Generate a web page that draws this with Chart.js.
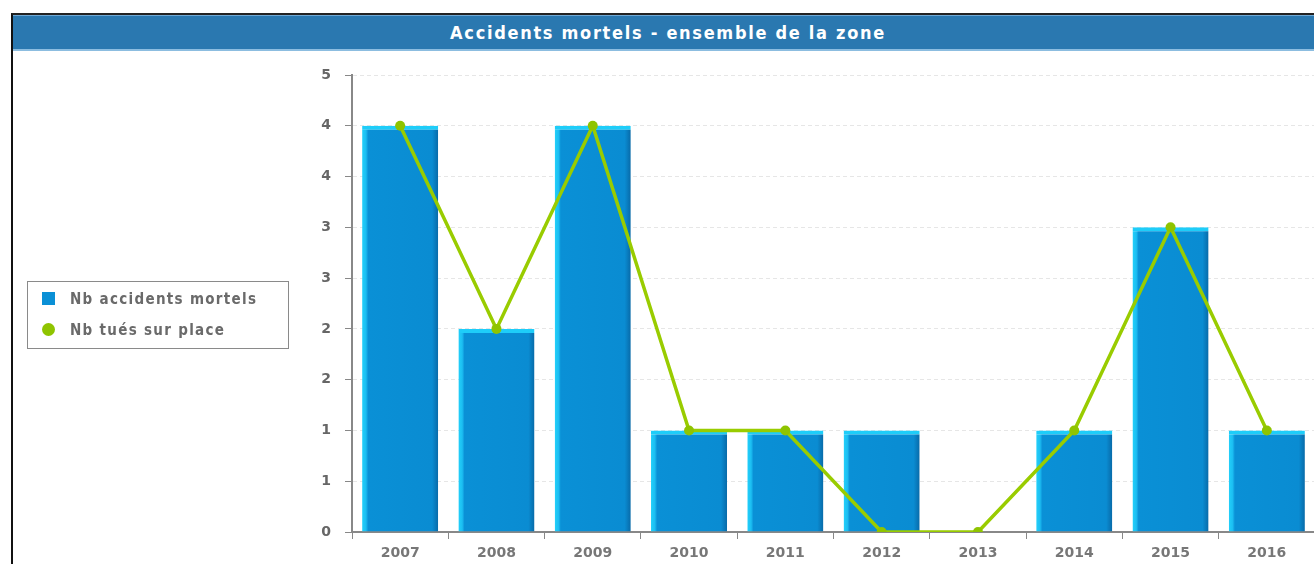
<!DOCTYPE html>
<html>
<head>
<meta charset="utf-8">
<script src="https://cdn.jsdelivr.net/npm/chart.js@4/dist/chart.umd.min.js"></script>
<style>
  html, body { margin:0; padding:0; background:#fff; width:1314px; height:564px; overflow:hidden; }
  #frame { position:absolute; left:11px; top:13px; width:1320px; height:560px; border-left:2px solid #111; border-top:2px solid #222; }
  #titlebar { position:absolute; left:0; top:0; width:100%; height:36px; background:#2a78b0;
    border-top:1px solid #6fa8d4; border-bottom:2px solid #8cbde0;
    color:#fff; font:bold 18px "DejaVu Sans Condensed"; letter-spacing:1.7px; line-height:34px; box-sizing:border-box; }
  #titlebar span { position:absolute; left:0; width:1310px; text-align:center; }
  #wrap { position:absolute; left:0; top:0; width:1314px; height:564px; overflow:hidden; }
  #legend { position:absolute; left:27px; top:281px; width:262px; height:68px; border:1px solid #8a8a8a; box-sizing:border-box;
    font:bold 15px "DejaVu Sans Condensed"; letter-spacing:1.3px; color:#6a6a6a; }
  .item { position:absolute; left:14px; height:20px; line-height:20px; }
  .item i { display:inline-block; width:13px; height:13px; margin-right:15px; vertical-align:-1px; }
</style>
</head>
<body>
<div id="frame"><div id="titlebar"><span>Accidents mortels - ensemble de la zone</span></div></div>
<div id="wrap"><canvas id="chart" width="1320" height="564"></canvas></div>
<div id="legend"></div>
<script>
const years = ['2007','2008','2009','2010','2011','2012','2013','2014','2015','2016'];
const accidents = [4, 2, 4, 1, 1, 1, 0, 1, 3, 1];
const tues = [4, 2, 4, 1, 1, 0, 0, 1, 3, 1];
const yMax = 4.5;
const yStep = 0.5;

const barColor = '#0a90d6';
const lineColor = '#99cc00';

// horizontal gradient for each bar: cyan left edge, darker right edge
function barFill(ctx){
  const chart = ctx.chart;
  const xs = chart.scales.x;
  if(!xs || ctx.dataIndex === undefined) return barColor;
  const cx = xs.getPixelForValue(ctx.dataIndex);
  const w = (xs.width / years.length) * 0.79;
  if(!isFinite(cx) || !isFinite(w) || w <= 0) return barColor;
  const g = chart.ctx.createLinearGradient(cx - w/2, 0, cx + w/2, 0);
  g.addColorStop(0, '#22d0fa');
  g.addColorStop(0.05, '#1cbef2');
  g.addColorStop(0.08, barColor);
  g.addColorStop(0.92, '#0a8cd2');
  g.addColorStop(1, '#086aa8');
  return g;
}

const ctx = document.getElementById('chart').getContext('2d');
const chart = new Chart(ctx, {
  data: {
    labels: years,
    datasets: [
      {
        type:'line', label:'Nb tués sur place', data: tues, order:0,
        borderColor: lineColor, backgroundColor: '#8fc400', borderWidth:3.5,
        pointRadius:5, pointHoverRadius:5, pointBackgroundColor:'#8fc400', pointBorderWidth:0,
        tension:0
      },
      {
        type:'bar', label:'Nb accidents mortels', data: accidents, order:1,
        backgroundColor: barFill, borderColor:'#1ecdf9',
        borderWidth:{ top:4, left:0, right:0, bottom:0 }, borderSkipped:'bottom',
        barPercentage:1, categoryPercentage:0.79
      }
    ]
  },
  options: {
    responsive:false, animation:false,
    layout:{ padding:{ left:312, top:75, right:0, bottom:0 } },
    plugins:{ legend:{ display:false }, tooltip:{ enabled:false } },
    scales:{
      x:{
        offset:true,
        grid:{ offset:true, drawOnChartArea:false, color:'#888', tickLength:7 },
        border:{ color:'#888', width:2 },
        ticks:{ color:'#777', font:{ family:'DejaVu Sans', weight:'bold', size:14 }, padding:6 },
        afterFit:(s)=>{ s.height = 32; }
      },
      y:{
        min:0, max:yMax,
        grid:{ color:'#e6e6e6', tickColor:'#888', tickLength:7 },
        border:{ color:'#888', width:2, dash:[4,3] },
        ticks:{ stepSize:yStep, color:'#666', font:{ family:'DejaVu Sans', weight:'bold', size:14 }, padding:14,
          callback:(v)=> Math.round(v) },
        afterFit:(s)=>{ s.width = 40; }
      }
    }
  }
});
chart.update();

// legend from dataset labels
const legend = document.getElementById('legend');
[chart.data.datasets[1], chart.data.datasets[0]].forEach((ds, i)=>{
  const d = document.createElement('div');
  d.className = 'item';
  d.style.top = (7 + i*31) + 'px';
  const sw = document.createElement('i');
  sw.style.background = ds.type === 'bar' ? barColor : '#8fc400';
  if(ds.type === 'line') sw.style.borderRadius = '50%';
  d.appendChild(sw);
  d.appendChild(document.createTextNode(ds.label));
  legend.appendChild(d);
});
</script>
</body>
</html>
